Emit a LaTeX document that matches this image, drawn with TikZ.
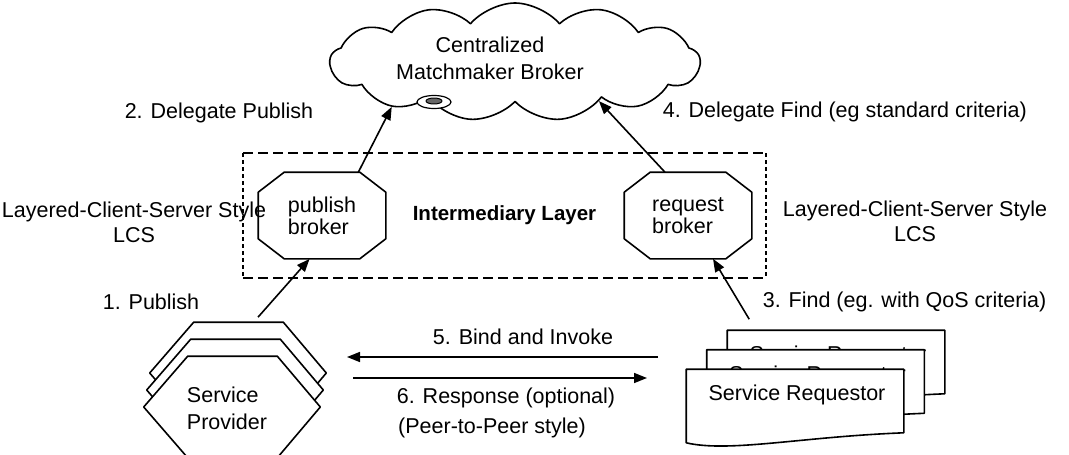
\documentclass[tikz,border=0pt]{standalone}
\usepackage{fontspec}
\setmainfont{Liberation Sans}
\usetikzlibrary{arrows.meta,calc,shapes.symbols}

\newcommand{\brokeroct}[1]{\draw[shapeline] ($(#1.north west)+(26,0)$) -- ($(#1.north east)+(-26,0)$) -- ($(#1.north east)+(0,20)$) -- ($(#1.south east)+(0,-20)$) -- ($(#1.south east)+(-26,0)$) -- ($(#1.south west)+(26,0)$) -- ($(#1.south west)+(0,-20)$) -- ($(#1.north west)+(0,20)$) -- cycle;}
\newcommand{\provhex}[1]{\draw[shapeline,fill=white] (#1.west) -- ($(#1.north west)+(44,0)$) -- ($(#1.north east)+(-43,0)$) -- (#1.east) -- ($(#1.south east)+(-43,0)$) -- ($(#1.south west)+(44,0)$) -- cycle;}
\newcommand{\reqdoc}[1]{\draw[shapeline,fill=white] (#1.south east) -- (#1.north east) -- (#1.north west) -- ($(#1.south west)+(0,10)$) .. controls ($(#1.south west)+(43,20)$) and ($(#1.south east)+(-103,4)$) .. (#1.south east) -- cycle;}

\begin{document}
\begin{tikzpicture}[x=1pt, y=-1pt, >={Triangle[length=13pt,width=10pt]},
	line width=1.6pt, line join=round, font=\fontsize{21.5}{24}\selectfont,
	lbl/.style={inner sep=0pt},
	shapeline/.style={draw=black, line width=1.6pt},
	brokerbox/.style={minimum width=126pt, minimum height=85pt, inner sep=0pt, align=left, font=\fontsize{21.5}{22}\selectfont},
	provbox/.style={minimum width=175pt, minimum height=100pt, inner sep=0pt},
	reqbox/.style={minimum width=216pt, minimum height=62pt, inner sep=0pt},
	hdash/.style={line width=2.2pt, dash pattern=on 10pt off 5pt},
	vdash/.style={line width=2.2pt, dash pattern=on 4pt off 3pt}]
	\useasboundingbox (0,0) rectangle (1069,455);
	\clip (0,0) rectangle (1069,455);
	% matchmaker cloud
	\node[cloud, cloud puffs=13, cloud puff arc=100, cloud ignores aspect, draw, minimum width=370pt, minimum height=118pt, inner sep=0pt] (cloud) at (515,62) {};
	\node[align=center, font=\fontsize{21.5}{27}\selectfont] (cloudtext) at (490,58) {Centralized\\Matchmaker Broker};
	\draw[fill=white, line width=1.2pt] (434,102) ellipse (17 and 6.5);
	\draw[fill=black!60, line width=1pt] (434,101) ellipse (8 and 3);
	% intermediary layer
	\node[minimum width=521pt, minimum height=123pt, font=\fontsize{20.5}{24}\selectfont\bfseries] (layer) at (504.5,215.5) {Intermediary Layer};
	\draw[hdash] (layer.north west) -- (layer.north east) (layer.south west) -- (layer.south east);
	\draw[vdash] (layer.north west) -- (layer.south west) (layer.north east) -- (layer.south east);
	\node[brokerbox] (pubbr) at (322,215.5) {publish\\broker};
	\brokeroct{pubbr}
	\node[brokerbox] (reqbr) at (688,215.5) {request\\broker};
	\brokeroct{reqbr}
	% provider stack
	\node[provbox] (prov3) at (238,373) {};
	\provhex{prov3}
	\node[provbox] (prov2) at (235,390) {};
	\provhex{prov2}
	\node[provbox] (prov) at (232,407) {};
	\provhex{prov}
	\node[align=left, font=\fontsize{21.5}{27}\selectfont] (provtext) at (227,408) {Service\\Provider};
	% requestor stack
	\foreach \n/\x/\y in {req3/836/362, req2/815.5/381.5, req/795/401} {
		\node[reqbox] (\n) at (\x,\y) {};
		\reqdoc{\n}
		\node (\n t) at ($(\n)+(2,-6)$) {Service Requestor};
	}
	% connectors
	\coordinate (pubstart) at ($(prov3.north)+(20,-5)$);
	\coordinate (findstart) at ($(req3.north west)+(22,-11)$);
	\coordinate (invR) at (658,357);
	\coordinate (invL) at (347,357);
	\coordinate (resL) at (353,378);
	\coordinate (resR) at (647,378);
	\draw[->] (pubstart) -- (pubbr.254);
	\draw[->] (pubbr.50) -- (cloud.200);
	\draw[->] (findstart) -- (reqbr.300);
	\draw[->] (reqbr.118) -- (cloud.335);
	\draw[->] (invR) -- (invL);
	\draw[->] (resL) -- (resR);
	% labels
	\node[lbl, anchor=east] (lbl2) at (314,113) {2. Delegate Publish};
	\node[lbl, anchor=west] (lbl4) at (662,112) {4. Delegate Find (eg standard criteria)};
	\node[lbl, anchor=west] (lbl1) at (102,302) {1. Publish};
	\node[lbl, anchor=west] (lbl3) at (762,302) {3. Find (eg. with QoS criteria)};
	\node[lbl] (lbl5) at (523,337) {5. Bind and Invoke};
	\node[lbl] (lbl6) at (506,398) {6. Response (optional)};
	\node[lbl] (p2p) at (492,428) {(Peer-to-Peer style)};
	\node[align=center, font=\fontsize{21.5}{25}\selectfont] (lcsL) at (134,222) {Layered-Client-Server Style\\LCS};
	\node[align=center, font=\fontsize{21.5}{25}\selectfont] (lcsR) at (915,221) {Layered-Client-Server Style\\LCS};
\end{tikzpicture}
\end{document}
